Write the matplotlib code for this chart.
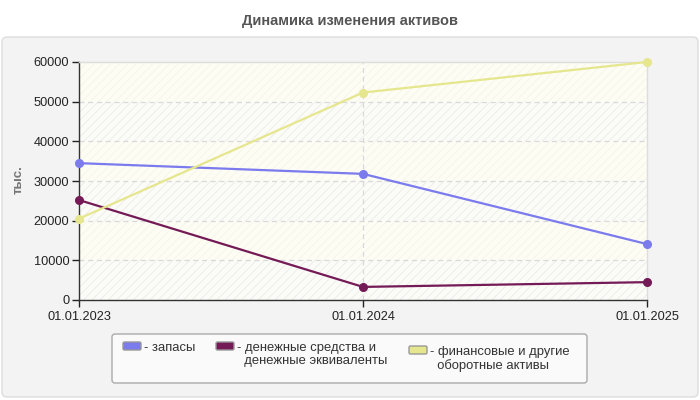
import matplotlib
matplotlib.use("Agg")
import matplotlib.pyplot as plt
from matplotlib.patches import FancyBboxPatch
from matplotlib.transforms import IdentityTransform

plt.rcParams['font.family'] = ['Liberation Sans', 'DejaVu Sans']
plt.rcParams['hatch.linewidth'] = 0.6

title = "Динамика изменения активов"
ylabel = "тыс."
dates = ["01.01.2023", "01.01.2024", "01.01.2025"]
series_names = ["запасы", "денежные средства и\nденежные эквиваленты",
                "финансовые и другие\nоборотные активы"]
zapasy = [34500, 31800, 14100]
dengi = [25200, 3300, 4500]
finans = [20500, 52300, 60000]
colors = ["#7b7bee", "#741a56", "#e6e68e"]
yticks = [0, 10000, 20000, 30000, 40000, 50000, 60000]

W, H = 700, 400
fig = plt.figure(figsize=(7, 4), dpi=100)
fig.patch.set_facecolor("white")

def px(x0, y0, x1, y1):
    return x0, H - y1, x1 - x0, y1 - y0

# outer panel
x, y, w, h = px(2, 37, 698, 397)
panel = FancyBboxPatch((x + 5, y + 5), w - 10, h - 10, boxstyle="round,pad=5",
                       facecolor="#f3f3f3", edgecolor="#dddddd", linewidth=1,
                       transform=IdentityTransform(), zorder=-10)
fig.patches.append(panel)

fig.text(350 / W, 1 - 21 / H, title, ha="center", va="center",
         fontsize=10.5, fontweight="bold", color="#555555")

L, R, T, B = 79, 647, 62, 300
ax = fig.add_axes([L / W, 1 - B / H, (R - L) / W, (B - T) / H], zorder=1)
ax.set_facecolor("#fdfdf6")

xs = list(range(len(dates)))
for i in range(len(yticks) - 1):
    lo, hi = yticks[i], yticks[i + 1]
    if i % 2 == 0:
        ax.axhspan(lo, hi, facecolor="#fbfbf8", edgecolor="#ebebe6",
                   hatch="////", linewidth=0, zorder=0)
    else:
        ax.axhspan(lo, hi, facecolor="#fdfdf4", edgecolor="#f4f4ea",
                   hatch="////", linewidth=0, zorder=0)

for vals, c in zip([zapasy, dengi, finans], colors):
    ax.plot(xs, vals, color=c, linewidth=1.6, marker="o", markersize=5.5,
            zorder=3, clip_on=False)

ax.set_xlim(0, len(dates) - 1)
ax.set_ylim(0, 60000)
ax.set_yticks(yticks)
ax.set_yticklabels([str(v) for v in yticks])
ax.set_xticks(xs)
ax.set_xticklabels(dates)
ax.tick_params(axis="both", labelsize=9.2, colors="#222222", length=5,
               width=1, direction="out", pad=2)
ax.tick_params(axis="x", pad=3)

for v in yticks[1:-1]:
    ax.axhline(v, color="#d9d9d9", linewidth=0.9, linestyle=(0, (4, 3)), zorder=1)
for xv in xs[1:-1]:
    ax.axvline(xv, color="#d9d9d9", linewidth=0.9, linestyle=(0, (4, 3)), zorder=1)

for s in ["left", "bottom"]:
    ax.spines[s].set_color("#333333")
    ax.spines[s].set_linewidth(1)
for s in ["top", "right"]:
    ax.spines[s].set_color("#dddddd")
    ax.spines[s].set_linewidth(1)

fig.text(19 / W, 1 - 180 / H, ylabel, rotation=90, ha="center", va="center",
         fontsize=9.5, fontweight="bold", color="#777777")

# legend
x, y, w, h = px(112, 334, 587, 383)
lg = FancyBboxPatch((x + 3, y + 3), w - 6, h - 6, boxstyle="round,pad=3",
                    facecolor="#fafafa", edgecolor="#aaaaaa", linewidth=1,
                    transform=IdentityTransform(), zorder=2)
fig.patches.append(lg)

entries = [(123, 342, 144, 347), (216, 342, 237, 347), (409, 346, 430, 351)]
for (px0, py0, tx, ty), name, c in zip(entries, series_names, colors):
    x, y, w, h = px(px0, py0, px0 + 18, py0 + 8)
    p = FancyBboxPatch((x + 1.5, y + 1.5), w - 3, h - 3, boxstyle="round,pad=1.5",
                       facecolor=c, edgecolor="#999999", linewidth=1,
                       transform=IdentityTransform(), zorder=3)
    fig.patches.append(p)
    fig.text(tx / W, 1 - (ty - 5) / H, "- " + name.replace("\n", "\n  "),
             ha="left", va="top", fontsize=9.4, color="#333333",
             linespacing=1.1, zorder=4)

fig.savefig("out.png", dpi=100)
